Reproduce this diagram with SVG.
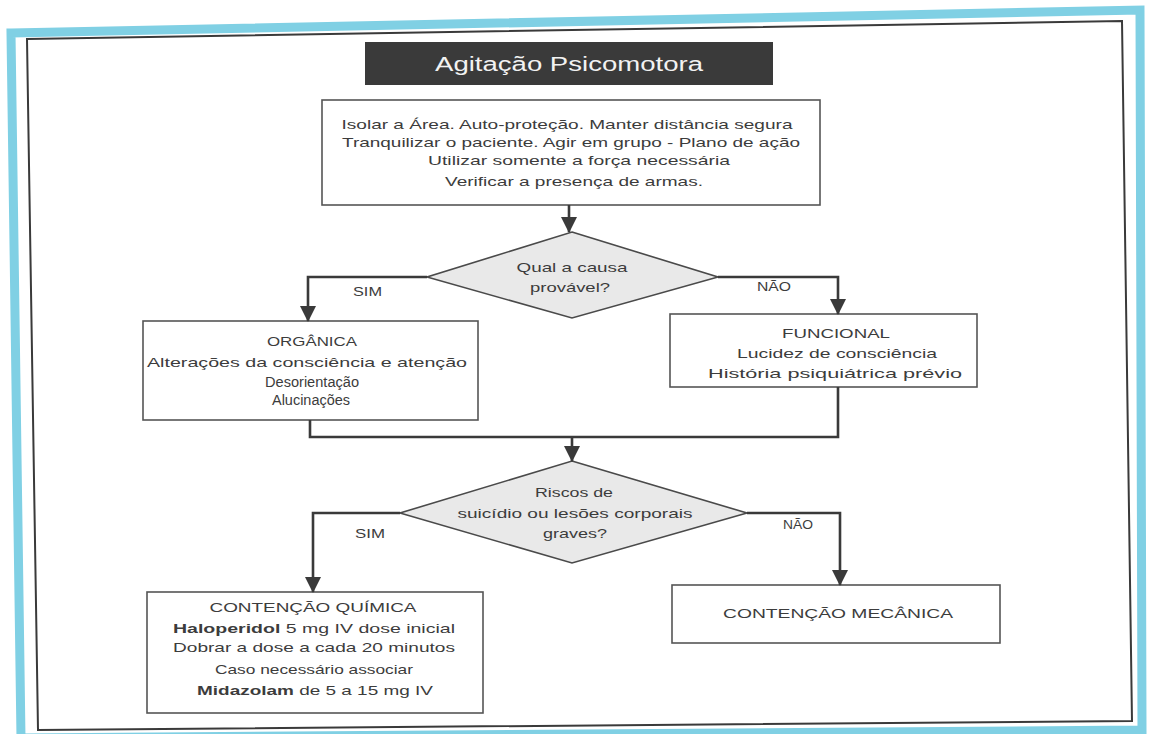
<svg xmlns="http://www.w3.org/2000/svg" width="1149" height="734" viewBox="0 0 1149 734">
  <defs>
    <marker id="arrow" markerUnits="userSpaceOnUse" markerWidth="18" markerHeight="16" refX="15" refY="8" orient="auto">
      <path d="M0,0 L16,8 L0,16 Z" fill="#3a3a3a"/>
    </marker>
    <style>
      .frame-outer { fill: none; stroke: #80d0e4; stroke-width: 9; stroke-linejoin: miter; }
      .frame-inner { fill: #ffffff; stroke: #3a3a3a; stroke-width: 2; }
      .box { fill: #ffffff; stroke: #555555; stroke-width: 1.6; }
      .decision { fill: #e9e9e9; stroke: #4a4a4a; stroke-width: 1.6; }
      .link { fill: none; stroke: #3a3a3a; stroke-width: 2.6; }
      .txt { font-family: "Liberation Sans", Arial, sans-serif; font-size: 13px; fill: #3c3c3c; text-anchor: middle; }
      .big { font-size: 14px; }
      .bold { font-weight: bold; }
      .head { font-family: "Liberation Sans", Arial, sans-serif; font-size: 20px; fill: #f2f2f2; text-anchor: middle; }
      .lbl { font-family: "Liberation Sans", Arial, sans-serif; font-size: 13px; fill: #3c3c3c; }
    </style>
  </defs>

  <rect x="0" y="0" width="1149" height="734" fill="#ffffff"/>

  <!-- page frame -->
  <polygon class="frame-outer" points="11,33 1140,10 1142,730 21,738"/>
  <polygon class="frame-inner" points="27,39 1122,21 1132,721 38,730"/>

  <!-- title -->
  <g id="title">
    <rect x="365" y="42" width="408" height="43" fill="#3a3a3a"/>
    <text class="head" x="569" y="71" textLength="268" lengthAdjust="spacingAndGlyphs">Agitação Psicomotora</text>
  </g>

  <!-- first actions -->
  <g id="n-acoes">
    <rect class="box" x="322" y="100" width="498" height="105"/>
    <text class="txt" x="567" y="129" textLength="451" lengthAdjust="spacingAndGlyphs">Isolar a Área. Auto-proteção. Manter distância segura</text>
    <text class="txt" x="571" y="147" textLength="458" lengthAdjust="spacingAndGlyphs">Tranquilizar o paciente. Agir em grupo - Plano de ação</text>
    <text class="txt" x="579" y="165" textLength="302" lengthAdjust="spacingAndGlyphs">Utilizar somente a força necessária</text>
    <text class="txt" x="574" y="186" textLength="258" lengthAdjust="spacingAndGlyphs">Verificar a presença de armas.</text>
  </g>

  <!-- decision: cause -->
  <g id="d-causa">
    <polygon class="decision" points="572,232 718,277 572,318 427,277"/>
    <text class="txt" x="572" y="272" textLength="111" lengthAdjust="spacingAndGlyphs">Qual a causa</text>
    <text class="txt" x="570" y="292" textLength="80" lengthAdjust="spacingAndGlyphs">provável?</text>
  </g>

  <!-- organic cause -->
  <g id="n-organica">
    <rect class="box" x="143" y="321" width="335" height="99"/>
    <text class="txt" x="312" y="346" textLength="90" lengthAdjust="spacingAndGlyphs">ORGÂNICA</text>
    <text class="txt" x="307" y="367" textLength="320" lengthAdjust="spacingAndGlyphs">Alterações da consciência e atenção</text>
    <text class="txt big" x="312" y="387" textLength="94" lengthAdjust="spacingAndGlyphs">Desorientação</text>
    <text class="txt big" x="311" y="405" textLength="78" lengthAdjust="spacingAndGlyphs">Alucinações</text>
  </g>

  <!-- functional cause -->
  <g id="n-funcional">
    <rect class="box" x="670" y="314" width="307" height="73"/>
    <text class="txt" x="836" y="338" textLength="108" lengthAdjust="spacingAndGlyphs">FUNCIONAL</text>
    <text class="txt" x="837" y="358" textLength="200" lengthAdjust="spacingAndGlyphs">Lucidez de consciência</text>
    <text class="txt" x="835" y="378" textLength="254" lengthAdjust="spacingAndGlyphs">História psiquiátrica prévio</text>
  </g>

  <!-- decision: risk -->
  <g id="d-riscos">
    <polygon class="decision" points="572,461 747,513 572,563 400,513"/>
    <text class="txt" x="574" y="497" textLength="78" lengthAdjust="spacingAndGlyphs">Riscos de</text>
    <text class="txt" x="575" y="518" textLength="235" lengthAdjust="spacingAndGlyphs">suicídio ou lesões corporais</text>
    <text class="txt" x="575" y="538" textLength="64" lengthAdjust="spacingAndGlyphs">graves?</text>
  </g>

  <!-- chemical restraint -->
  <g id="n-quimica">
    <rect class="box" x="147" y="592" width="336" height="121"/>
    <text class="txt" x="313" y="612" textLength="207" lengthAdjust="spacingAndGlyphs">CONTENÇÃO QUÍMICA</text>
    <text class="txt" x="314" y="633" textLength="282" lengthAdjust="spacingAndGlyphs"><tspan class="bold">Haloperidol</tspan> 5 mg IV dose inicial</text>
    <text class="txt" x="314" y="652" textLength="282" lengthAdjust="spacingAndGlyphs">Dobrar a dose a cada 20 minutos</text>
    <text class="txt" x="314" y="674" textLength="198" lengthAdjust="spacingAndGlyphs">Caso necessário associar</text>
    <text class="txt" x="315" y="695" textLength="236" lengthAdjust="spacingAndGlyphs"><tspan class="bold">Midazolam</tspan> de 5 a 15 mg IV</text>
  </g>

  <!-- mechanical restraint -->
  <g id="n-mecanica">
    <rect class="box" x="672" y="585" width="328" height="58"/>
    <text class="txt" x="838" y="618" textLength="230" lengthAdjust="spacingAndGlyphs">CONTENÇÃO MECÂNICA</text>
  </g>

  <!-- connectors -->
  <g id="connectors">
    <path class="link" d="M569,205 L569,232" marker-end="url(#arrow)"/>
    <path class="link" d="M427,277 L308,277 L308,321" marker-end="url(#arrow)"/>
    <path class="link" d="M718,277 L838,277 L838,314" marker-end="url(#arrow)"/>
    <path class="link" d="M310,420 L310,437 L838,437 L838,387"/>
    <path class="link" d="M572,437 L572,461" marker-end="url(#arrow)"/>
    <path class="link" d="M400,513 L313,513 L313,592" marker-end="url(#arrow)"/>
    <path class="link" d="M747,513 L840,513 L840,585" marker-end="url(#arrow)"/>
    <text class="lbl" x="353" y="296" textLength="29" lengthAdjust="spacingAndGlyphs">SIM</text>
    <text class="lbl" x="757" y="291" textLength="34" lengthAdjust="spacingAndGlyphs">NÃO</text>
    <text class="lbl" x="355" y="538" textLength="30" lengthAdjust="spacingAndGlyphs">SIM</text>
    <text class="lbl" x="783" y="529" textLength="30" lengthAdjust="spacingAndGlyphs">NÃO</text>
  </g>
</svg>
